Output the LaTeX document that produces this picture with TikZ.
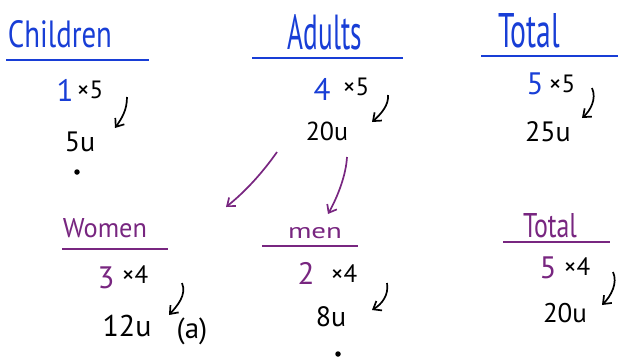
\documentclass[tikz,border=0pt]{standalone}
\usepackage{fontspec}
\usepackage{graphicx}
\setmainfont{PT Sans}
\usetikzlibrary{arrows.meta}
\definecolor{penblue}{RGB}{24,62,214}
\definecolor{penpurple}{RGB}{120,38,128}
\newcommand{\hwbox}[3]{\resizebox{#1pt}{#2pt}{#3}}
\tikzset{
  txt/.style={inner sep=0pt, anchor=base},
  num/.style={txt, font=\fontsize{31}{31}\selectfont},
  times/.style={txt, font=\fontsize{25}{25}\selectfont},
  res/.style={txt, font=\fontsize{#1}{#1}\selectfont},
  rule/.style={line width=2.3pt},
  pen/.style={line width=1.7pt, -{Straight Barb[length=7pt,width=11pt]}},
  dot/.style={circle, fill=black, inner sep=0pt, minimum size=5.5pt},
}
\begin{document}
\begin{tikzpicture}[x=1pt,y=-1pt]
\useasboundingbox (0,0) rectangle (618,362);
% Children
\node[txt, penblue] (ch) at (60,47) {\hwbox{104}{27}{Children}};
\draw[rule, penblue] (6,60) -- (149,60);
\node[num, penblue] (c1) at (65,101) {1};
\node[times] (c1x) at (90,98) {×5};
\node[res=28] (c5u) at (80,151) {5u};
\node[dot] (cdot) at (77,172) {};
\coordinate (ca1) at (127,97);
\coordinate (ca2) at (115,128);
\draw[pen] (ca1) .. controls (127,110) and (122,118) .. (ca2);
% Adults
\node[txt, penblue] (ad) at (325,49) {\hwbox{74}{35}{Adults}};
\draw[rule, penblue] (252,58) -- (403,58);
\node[num, penblue] (a4) at (322,100) {4};
\node[times] (a4x) at (356,95) {×5};
\node[res=26] (a20) at (327,140) {20u};
\coordinate (aa1) at (388,95);
\coordinate (aa2) at (372,122);
\draw[pen] (aa1) .. controls (389,105) and (381,114) .. (aa2);
% Total (top)
\node[txt, penblue] (tt) at (529,47) {\hwbox{62}{34}{Total}};
\draw[rule, penblue] (481,56) -- (618,56);
\node[num, penblue] (t5) at (535,94) {5};
\node[times] (t5x) at (562,92) {×5};
\node[res=28] (t25) at (548,141) {25u};
\coordinate (ta1) at (592,88);
\coordinate (ta2) at (582,118);
\draw[pen] (ta1) .. controls (597,99) and (590,111) .. (ta2);
% purple splits
\coordinate (p1a) at (277,152);
\coordinate (p1b) at (226,207);
\draw[pen, penpurple] (p1a) .. controls (263,172) and (246,191) .. (p1b);
\coordinate (p2a) at (347,157);
\coordinate (p2b) at (328,214);
\draw[pen, penpurple] (p2a) .. controls (346,175) and (338,196) .. (p2b);
% Women
\node[txt, penpurple] (wo) at (105,237) {\hwbox{84}{19}{Women}};
\draw[rule, penpurple] (62,249) -- (168,249);
\node[num, penpurple] (w3) at (106,288) {3};
\node[times] (w3x) at (135,283) {×4};
\node[res=30] (w12) at (127,336) {12u};
\node[res=29] (wa) at (192,338) {(a)};
\coordinate (wa1) at (182,283);
\coordinate (wa2) at (169,315);
\draw[pen] (wa1) .. controls (187,295) and (177,306) .. (wa2);
% men
\node[txt, penpurple] (me) at (315,238) {\hwbox{54}{11}{men}};
\draw[rule, penpurple] (262,246) -- (358,246);
\node[num, penpurple] (m2) at (306,284) {2};
\node[times] (m2x) at (344,282) {×4};
\node[res=28] (m8) at (331,326) {8u};
\node[dot] (mdot) at (338,354) {};
\coordinate (ma1) at (387,283);
\coordinate (ma2) at (372,310);
\draw[pen] (ma1) .. controls (389,295) and (382,304) .. (ma2);
% Total (bottom)
\node[txt, penpurple] (tb) at (550,237) {\hwbox{54}{24}{Total}};
\draw[rule, penpurple] (503,242) -- (610,242);
\node[num, penpurple] (b5) at (548,278) {5};
\node[times] (b5x) at (577,275) {×4};
\node[res=27] (b20) at (565,322) {20u};
\coordinate (ba1) at (613,272);
\coordinate (ba2) at (602,305);
\draw[pen] (ba1) .. controls (618,283) and (611,296) .. (ba2);
\end{tikzpicture}
\end{document}
